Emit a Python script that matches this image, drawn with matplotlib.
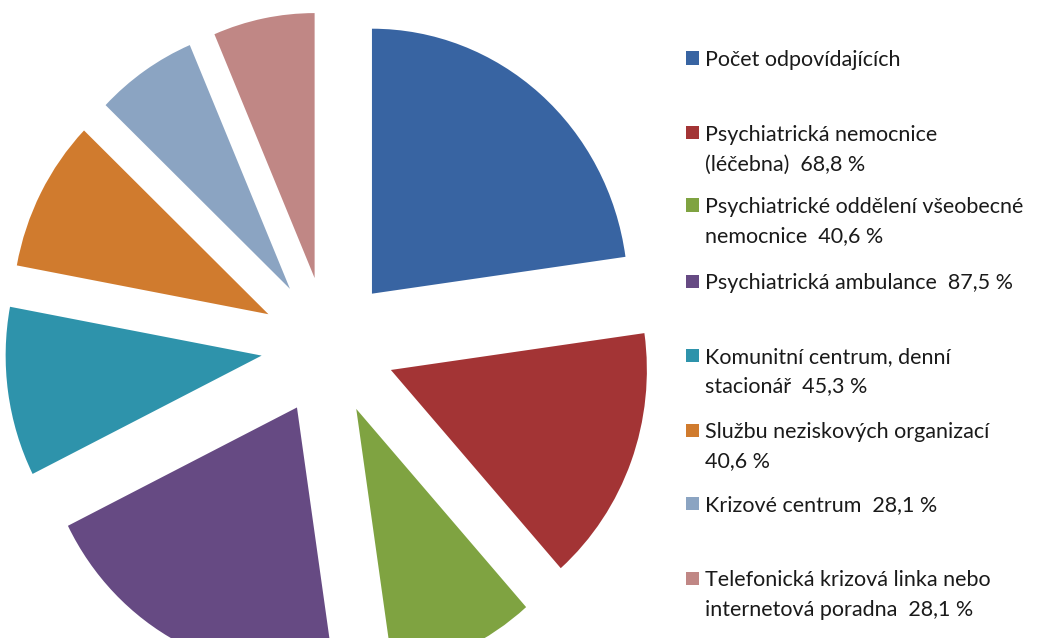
import matplotlib
matplotlib.use("Agg")
import matplotlib.pyplot as plt
from matplotlib.patches import Rectangle

plt.rcParams["font.family"] = ["Lato", "DejaVu Sans"]

# Share of respondents (64 = 100 %) who named each type of service
categories = [
    "Počet odpovídajících",
    "Psychiatrická nemocnice\n(léčebna)",
    "Psychiatrické oddělení všeobecné\nnemocnice",
    "Psychiatrická ambulance",
    "Komunitní centrum, denní\nstacionář",
    "Službu neziskových organizací\n",
    "Krizové centrum",
    "Telefonická krizová linka nebo\ninternetová poradna",
]
values = [100.0, 68.8, 40.6, 87.5, 45.3, 40.6, 28.1, 28.1]
show_value = [False, True, True, True, True, True, True, True]

colors = ["#3864A2", "#A33435", "#7FA341", "#664A83",
          "#2E93AB", "#D07B2E", "#8BA4C2", "#C08785"]

W, H = 1038, 638
SY = 1.035  # vertical stretch of the pie

fig = plt.figure(figsize=(W / 100, H / 100), dpi=100)
fig.patch.set_facecolor("white")
ax = fig.add_axes([0, 0, 1, 1])

cx, cy = 328, (H - 346) / SY
radius = 256
explode = [67] * len(values)

ax.pie(values, colors=colors, startangle=90, counterclock=False,
       center=(cx, cy), radius=radius, explode=explode,
       wedgeprops=dict(linewidth=0))
ax.set_xlim(0, W)
ax.set_ylim(0, H / SY)
ax.set_aspect("auto")
ax.axis("off")

# Legend rows (first-line centres, in pixels from the top)
row_y = [58, 133, 205, 281, 355, 430, 503, 578]
line_step = 29.5
sq_x, sq = 686, 13
text_x = 705

for name, val, show, col, yp in zip(categories, values, show_value, colors, row_y):
    if show:
        pct = f"{val:.1f}".replace(".", ",") + " %"
        label = name + pct if name.endswith("\n") else name + "  " + pct
    else:
        label = name
    fig.patches.append(Rectangle((sq_x / W, (H - yp - sq / 2) / H),
                                 sq / W, sq / H, transform=fig.transFigure,
                                 facecolor=col, edgecolor="none"))
    for i, line in enumerate(label.split("\n")):
        base = yp + 8 + i * line_step
        fig.text(text_x / W, (H - base) / H, line, fontsize=15.5,
                 color="#1a1a1a", ha="left", va="baseline",
                 transform=fig.transFigure)

fig.savefig("out.png", dpi=100)
